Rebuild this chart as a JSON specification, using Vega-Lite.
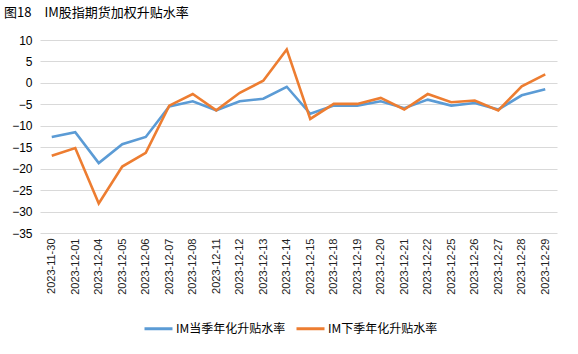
{
  "$schema": "https://vega.github.io/schema/vega-lite/v6.json",
  "width": 517,
  "height": 193,
  "autosize": {"type": "none"},
  "padding": {"left": 40, "top": 40, "right": 21, "bottom": 121},
  "background": "white",
  "title": {
    "text": "图18\u3000IM股指期货加权升贴水率",
    "anchor": "start",
    "frame": "group",
    "dx": -36,
    "offset": 14,
    "font": "Noto Sans CJK SC",
    "fontSize": 13,
    "fontWeight": "normal",
    "color": "#000000"
  },
  "data": {
    "values": [
      {"date": "2023-11-30", "IM当季年化升贴水率": -12.6, "IM下季年化升贴水率": -17.0},
      {"date": "2023-12-01", "IM当季年化升贴水率": -11.5, "IM下季年化升贴水率": -15.2},
      {"date": "2023-12-04", "IM当季年化升贴水率": -18.7, "IM下季年化升贴水率": -28.1},
      {"date": "2023-12-05", "IM当季年化升贴水率": -14.3, "IM下季年化升贴水率": -19.5},
      {"date": "2023-12-06", "IM当季年化升贴水率": -12.6, "IM下季年化升贴水率": -16.3},
      {"date": "2023-12-07", "IM当季年化升贴水率": -5.5, "IM下季年化升贴水率": -5.3},
      {"date": "2023-12-08", "IM当季年化升贴水率": -4.3, "IM下季年化升贴水率": -2.6},
      {"date": "2023-12-11", "IM当季年化升贴水率": -6.4, "IM下季年化升贴水率": -6.4},
      {"date": "2023-12-12", "IM当季年化升贴水率": -4.3, "IM下季年化升贴水率": -2.3},
      {"date": "2023-12-13", "IM当季年化升贴水率": -3.7, "IM下季年化升贴水率": 0.5},
      {"date": "2023-12-14", "IM当季年化升贴水率": -0.9, "IM下季年化升贴水率": 7.8},
      {"date": "2023-12-15", "IM当季年化升贴水率": -7.2, "IM下季年化升贴水率": -8.4},
      {"date": "2023-12-18", "IM当季年化升贴水率": -5.3, "IM下季年化升贴水率": -4.9},
      {"date": "2023-12-19", "IM当季年化升贴水率": -5.3, "IM下季年化升贴水率": -4.9},
      {"date": "2023-12-20", "IM当季年化升贴水率": -4.3, "IM下季年化升贴水率": -3.5},
      {"date": "2023-12-21", "IM当季年化升贴水率": -5.9, "IM下季年化升贴水率": -6.2},
      {"date": "2023-12-22", "IM当季年化升贴水率": -3.9, "IM下季年化升贴水率": -2.6},
      {"date": "2023-12-25", "IM当季年化升贴水率": -5.3, "IM下季年化升贴水率": -4.5},
      {"date": "2023-12-26", "IM当季年化升贴水率": -4.7, "IM下季年化升贴水率": -4.1},
      {"date": "2023-12-27", "IM当季年化升贴水率": -6.2, "IM下季年化升贴水率": -6.4},
      {"date": "2023-12-28", "IM当季年化升贴水率": -2.9, "IM下季年化升贴水率": -0.8},
      {"date": "2023-12-29", "IM当季年化升贴水率": -1.5, "IM下季年化升贴水率": 2.0}
    ]
  },
  "transform": [
    {"fold": ["IM当季年化升贴水率", "IM下季年化升贴水率"], "as": ["series", "value"]}
  ],
  "mark": {"type": "line", "strokeWidth": 2.6, "strokeJoin": "miter"},
  "encoding": {
    "x": {
      "field": "date",
      "type": "ordinal",
      "sort": null,
      "scale": {"paddingInner": 0, "paddingOuter": 0},
      "axis": {
        "title": null,
        "labelAngle": -90,
        "labelAlign": "right",
        "labelBaseline": "middle",
        "labelPadding": 5,
        "ticks": false,
        "domain": false,
        "labelFont": "Liberation Sans",
        "labelFontSize": 11,
        "labelColor": "#222222"
      }
    },
    "y": {
      "field": "value",
      "type": "quantitative",
      "scale": {"domain": [-35, 10], "nice": false, "zero": false},
      "axis": {
        "title": null,
        "values": [-35, -30, -25, -20, -15, -10, -5, 0, 5, 10],
        "ticks": false,
        "domain": false,
        "labelPadding": 8,
        "labelFont": "Liberation Sans",
        "labelFontSize": 12,
        "labelColor": "#000000",
        "gridColor": "#d9d9d9",
        "gridWidth": 1
      }
    },
    "color": {
      "field": "series",
      "type": "nominal",
      "scale": {
        "domain": ["IM当季年化升贴水率", "IM下季年化升贴水率"],
        "range": ["#5B9BD5", "#ED7D31"]
      },
      "legend": {
        "title": null,
        "orient": "none",
        "direction": "horizontal",
        "legendX": 103,
        "legendY": 273,
        "symbolType": "stroke",
        "symbolSize": 784,
        "symbolStrokeWidth": 3,
        "labelFont": "Noto Sans CJK SC",
        "labelFontSize": 12,
        "labelColor": "#000000",
        "labelOffset": 2,
        "columnPadding": 4
      }
    }
  },
  "config": {
    "view": {"stroke": null}
  }
}
